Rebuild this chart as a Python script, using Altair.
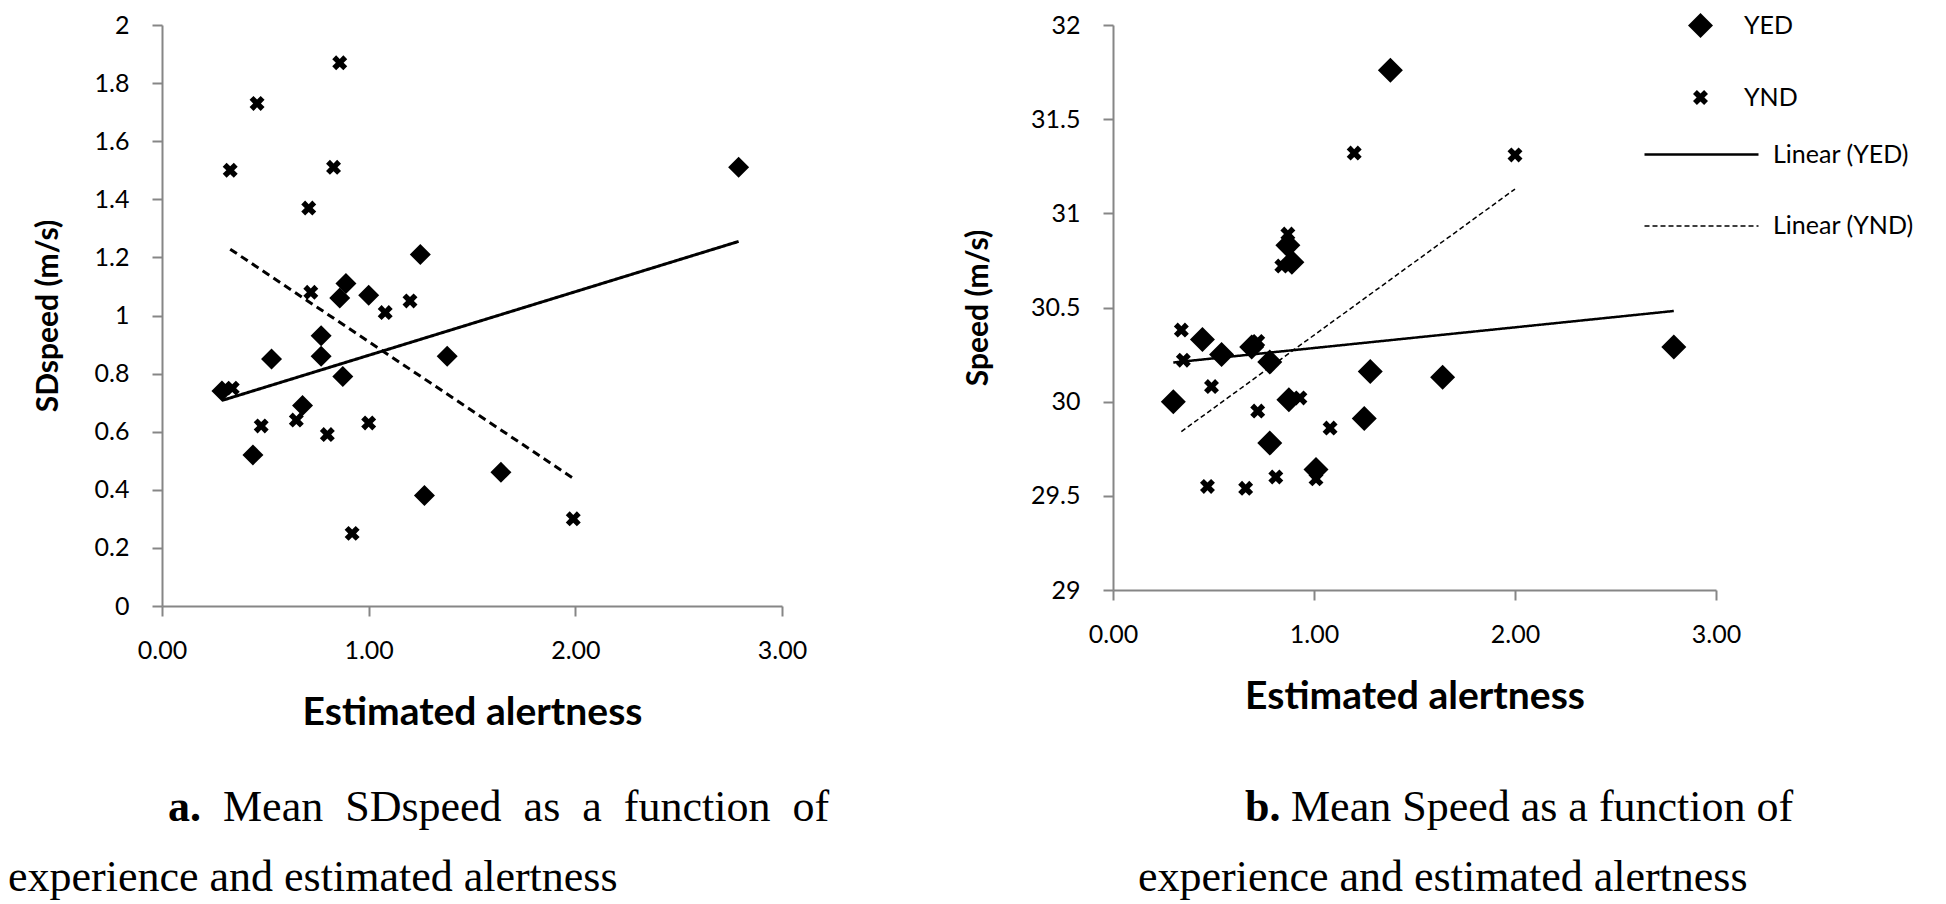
import altair as alt
import pandas as pd

# ---------------- data ----------------
series_names = ["YED", "YND"]
trend_names = ["Linear (YED)", "Linear (YND)"]

# Panel a: SDspeed vs estimated alertness
a_yed_alert = [0.29, 0.44, 0.53, 0.68, 0.77, 0.77, 0.86, 0.875, 0.89, 1.00, 1.25, 1.27, 1.38, 1.64, 2.79]
a_yed_sd = [0.74, 0.52, 0.85, 0.69, 0.93, 0.86, 1.06, 0.79, 1.11, 1.07, 1.21, 0.38, 0.86, 0.46, 1.51]
a_ynd_alert = [0.33, 0.34, 0.46, 0.48, 0.65, 0.71, 0.72, 0.80, 0.83, 0.86, 0.92, 1.00, 1.08, 1.20, 1.99]
a_ynd_sd = [1.50, 0.75, 1.73, 0.62, 0.64, 1.37, 1.08, 0.59, 1.51, 1.87, 0.25, 0.63, 1.01, 1.05, 0.30]

# Panel b: Speed vs estimated alertness
b_yed_alert = [0.30, 0.445, 0.54, 0.69, 0.78, 0.78, 0.87, 0.875, 0.89, 1.01, 1.25, 1.28, 1.38, 1.64, 2.79]
b_yed_speed = [30.00, 30.33, 30.25, 30.29, 30.21, 29.78, 30.83, 30.01, 30.74, 29.64, 29.91, 30.16, 31.76, 30.13, 30.29]
b_ynd_alert = [0.34, 0.35, 0.47, 0.49, 0.66, 0.72, 0.72, 0.81, 0.84, 0.87, 0.93, 1.01, 1.08, 1.20, 2.00]
b_ynd_speed = [30.38, 30.22, 29.55, 30.08, 29.54, 30.32, 29.95, 29.60, 30.72, 30.89, 30.02, 29.59, 29.86, 31.32, 31.31]

x_ticks = [0, 1, 2, 3]
a_y_ticks = [0, 0.2, 0.4, 0.6, 0.8, 1.0, 1.2, 1.4, 1.6, 1.8, 2.0]
b_y_ticks = [29, 29.5, 30, 30.5, 31, 31.5, 32]

x_title = "Estimated alertness"
a_y_title = "SDspeed (m/s)"
b_y_title = "Speed (m/s)"

cap_a_label = "a."
cap_a_line1 = "Mean\u00a0 SDspeed\u00a0 as\u00a0 a\u00a0 function\u00a0 of"
cap_b_label = "b."
cap_b_line1 = "Mean Speed as a function of"
cap_line2 = "experience and estimated alertness"


def make_df(xa, ya, xb, yb):
    rows = [{"alert": x, "value": y, "series": "YED"} for x, y in zip(xa, ya)]
    rows += [{"alert": x, "value": y, "series": "YND"} for x, y in zip(xb, yb)]
    return pd.DataFrame(rows)


df_a = make_df(a_yed_alert, a_yed_sd, a_ynd_alert, a_ynd_sd)
df_b = make_df(b_yed_alert, b_yed_speed, b_ynd_alert, b_ynd_speed)

# bold "x" marker as a filled path in the [-1,1] box
X_PATH = ("M-0.46,-0.955L0,-0.495L0.46,-0.955L0.955,-0.46L0.495,0L0.955,0.46"
          "L0.46,0.955L0,0.495L-0.46,0.955L-0.955,0.46L-0.495,0L-0.955,-0.46Z")

GREY = "#868686"
AX = dict(domainColor=GREY, domainWidth=2, tickColor=GREY, tickWidth=2, tickSize=10,
          grid=False, labelFont="Lato", labelFontSize=25, labelColor="black",
          titleFont="Lato", titleFontWeight="bold", titleColor="black",
          labelFlush=False, labelOverlap=False)


def text_layer(text, x, y, bold=False):
    return alt.Chart(alt.Data(values=[{}])).mark_text(
        text=text, font="Liberation Serif", fontSize=44,
        fontWeight="bold" if bold else "normal", align="left", baseline="middle", color="black"
    ).encode(x=alt.value(x), y=alt.value(y))


def panel(df, y_title, y_domain, y_ticks, width, height, sizes, widths, dash,
          y_title_pad, leg_pts, leg_lines, extra):
    x_enc = alt.X("alert:Q", scale=alt.Scale(domain=[0, 3], nice=False, zero=False),
                  axis=alt.Axis(values=x_ticks, format=".2f", title=x_title, titleFontSize=39,
                                titlePadding=30, labelPadding=22, **AX))
    y_enc = alt.Y("value:Q", scale=alt.Scale(domain=y_domain, nice=False, zero=False),
                  axis=alt.Axis(values=y_ticks, format=".1~f", title=y_title, titleFontSize=30,
                                titlePadding=y_title_pad, labelPadding=23, **AX))
    pts = alt.Chart(df).mark_point(filled=True, opacity=1, color="black", strokeWidth=0).encode(
        x=x_enc, y=y_enc,
        shape=alt.Shape("series:N", scale=alt.Scale(domain=series_names, range=["diamond", X_PATH]),
                        legend=leg_pts),
        size=alt.Size("series:N", scale=alt.Scale(domain=series_names, range=sizes), legend=leg_pts),
    )
    lines = alt.Chart(df).transform_regression(
        "alert", "value", groupby=["series"]
    ).transform_calculate(
        trend="'Linear (' + datum.series + ')'"
    ).mark_line(color="black").encode(
        x="alert:Q", y="value:Q",
        strokeDash=alt.StrokeDash("trend:N", scale=alt.Scale(domain=trend_names, range=[[1, 0], dash]),
                                  legend=leg_lines),
        strokeWidth=alt.StrokeWidth("trend:N", scale=alt.Scale(domain=trend_names, range=widths),
                                    legend=None),
    )
    return alt.layer(pts, lines, *extra).properties(width=width, height=height)


leg_pts = alt.Legend(title=None, orient="none", legendX=574, legendY=-13,
                     labelFont="Lato", labelFontSize=25, labelColor="black",
                     labelOffset=30, rowPadding=44)
leg_lines = alt.Legend(title=None, orient="none", legendX=530, legendY=71,
                       labelFont="Lato", labelFontSize=25, labelColor="black",
                       symbolType="stroke", symbolSize=12996, symbolStrokeWidth=2.5,
                       symbolStrokeColor="black", labelOffset=13, rowPadding=-2)

captions = [
    text_layer(cap_a_label, 6, 783, bold=True),
    text_layer(cap_a_line1, 61, 783),
    text_layer(cap_line2, -154, 853),
    text_layer(cap_b_label, 1083, 783, bold=True),
    text_layer(cap_b_line1, 1129, 783),
    text_layer(cap_line2, 976, 853),
]

left = panel(df_a, a_y_title, [0, 2], a_y_ticks, 620, 581, [441, 246], [3, 3], [8, 5],
             31, None, None, captions)
right = panel(df_b, b_y_title, [29, 32], b_y_ticks, 603, 565, [625, 246], [2.5, 1.5], [5, 3],
              37, leg_pts, leg_lines, [])

chart = alt.hconcat(left, right, spacing=331, bounds="flush").resolve_scale(
    shape="independent", size="independent", strokeDash="independent", strokeWidth="independent"
).resolve_legend(
    shape="independent", size="independent", strokeDash="independent"
).properties(
    padding={"top": 4, "left": 0, "right": 0, "bottom": 0}, background="white"
).configure_view(strokeWidth=0)

chart.save("out.html", embed_options={"renderer": "svg", "actions": False})
